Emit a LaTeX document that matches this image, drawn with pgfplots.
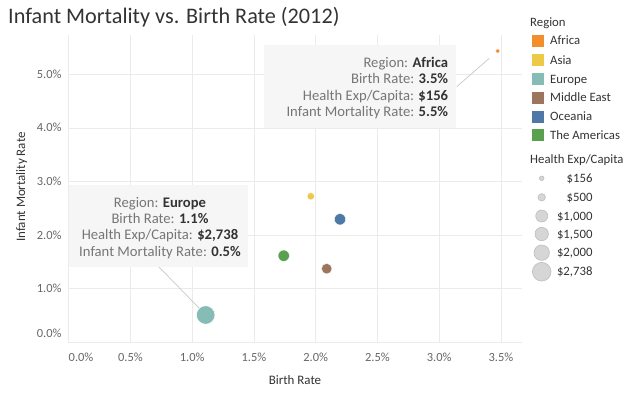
\documentclass[border=0pt]{standalone}
\usepackage{pgfplots}
\pgfplotsset{compat=1.18}
\usepackage{fontspec}
\setmainfont{Carlito}
\definecolor{africa}{HTML}{F28E2B}
\definecolor{asia}{HTML}{EDC948}
\definecolor{europe}{HTML}{86BCB6}
\definecolor{mideast}{HTML}{9C755F}
\definecolor{oceania}{HTML}{4E79A7}
\definecolor{americas}{HTML}{59A14F}
\definecolor{gridc}{HTML}{EBEBEB}
\definecolor{c333}{HTML}{333333}
\definecolor{c666}{HTML}{666666}
\definecolor{c777}{HTML}{767676}
\definecolor{boxc}{HTML}{F6F6F6}
\definecolor{leadc}{HTML}{C8C8C8}
\definecolor{szfill}{HTML}{D6D6D6}
\definecolor{szdraw}{HTML}{BDBDBD}
\pgfplotsset{pt/.style={only marks, mark=*, color=#1, mark options={draw=white, fill=#1, line width=0.4bp}}}
\begin{document}
\begin{tikzpicture}[x=1bp,y=1bp,
  lg/.style={font=\fontsize{12.8}{15}\selectfont, inner sep=0pt, anchor=base west, text=c333},
  tt/.style={font=\fontsize{14.7}{17}\selectfont, inner sep=0pt, text=c777}]
\useasboundingbox (0,0) rectangle (640,395);
\begin{axis}[
  at={(68.7bp,52.5bp)}, anchor=south west, scale only axis,
  width=453bp, height=307.5bp,
  xmin=0, xmax=3.668, ymin=0, ymax=5.733,
  axis x line*=bottom, axis y line*=left,
  axis line style={draw=gridc, line width=0.8bp, -},
  grid=major, major grid style={draw=gridc, line width=0.8bp},
  major tick length=0pt, tick style={draw=none},
  xtick={0,0.5,1,1.5,2,2.5,3,3.5}, ytick={0,1,2,3,4,5},
  xticklabels={\rlap{0.0\%},0.5\%,1.0\%,1.5\%,2.0\%,2.5\%,3.0\%,3.5\%},
  yticklabels={\raisebox{9.5bp}{0.0\%},1.0\%,2.0\%,3.0\%,4.0\%,5.0\%},
  xticklabel style={font=\fontsize{12.5}{14}\selectfont, text=c666, anchor=base, inner sep=0pt, yshift=-18.5bp},
  yticklabel style={font=\fontsize{12.5}{14}\selectfont, text=c666, anchor=base east, inner sep=0pt, xshift=-7bp, yshift=-4bp},
  clip=false,
]
% x = birth rate (%), y = infant mortality rate (%)
\addplot[pt=africa, mark size=2.1bp] coordinates {(3.474,5.434)};    % Africa, $156
\addplot[pt=asia, mark size=3.7bp] coordinates {(1.960,2.726)};      % Asia
\addplot[pt=oceania, mark size=5.7bp] coordinates {(2.197,2.297)};   % Oceania
\addplot[pt=mideast, mark size=5.3bp] coordinates {(2.089,1.376)};   % Middle East
\addplot[pt=americas, mark size=5.7bp] coordinates {(1.741,1.618)};  % The Americas
\addplot[pt=europe, mark size=9.2bp] coordinates {(1.109,0.513)};    % Europe, $2,738
\end{axis}
% title and axis labels
\node[font=\fontsize{22.3}{26}\selectfont, text=c333, inner sep=0pt, anchor=base west] at (8,372) {Infant Mortality vs. Birth Rate (2012)};
\node[font=\fontsize{13}{15}\selectfont, text=c333, inner sep=0pt, anchor=base] at (295,10.8) {Birth Rate};
\node[font=\fontsize{13}{15}\selectfont, text=c333, inner sep=0pt, anchor=base, rotate=90] at (25.2,208) {Infant Mortality Rate};
% tooltips
\draw[leadc, line width=0.7bp] (489.3,336.7) -- (456.7,308.3);
\draw[leadc, line width=0.7bp] (159,128) -- (199.3,86.7);
\fill[boxc] (264,350) rectangle (456,267);
\fill[boxc] (69.3,210) rectangle (248.3,128);
\node[tt, anchor=base east] at (448.3,328) {Region: \textcolor{c333}{\textbf{Africa}}};
\node[tt, anchor=base east] at (448.3,311.3) {Birth Rate: \textcolor{c333}{\textbf{3.5\%}}};
\node[tt, anchor=base east] at (448.3,294.6) {Health Exp/Capita: \textcolor{c333}{\textbf{\$156}}};
\node[tt, anchor=base east] at (448.3,278.6) {Infant Mortality Rate: \textcolor{c333}{\textbf{5.5\%}}};
\node[tt, anchor=base] at (160,187.6) {Region: \textcolor{c333}{\textbf{Europe}}};
\node[tt, anchor=base] at (160,171.3) {Birth Rate: \textcolor{c333}{\textbf{1.1\%}}};
\node[tt, anchor=base] at (160,155.3) {Health Exp/Capita: \textcolor{c333}{\textbf{\$2,738}}};
\node[tt, anchor=base] at (160,138.6) {Infant Mortality Rate: \textcolor{c333}{\textbf{0.5\%}}};
% legend: region
\node[lg] at (530,368.5) {Region};
\foreach \y/\c/\t in {354.3/africa/Africa, 335/asia/Asia, 316/europe/Europe, 297.3/mideast/Middle East, 278.3/oceania/Oceania, 260/americas/The Americas}{
  \fill[\c] (531.7,\y-5.8) rectangle (544,\y+5.8);
  \node[lg] at (550,\y-4.1) {\t};
}
% legend: size
\node[lg] at (530,231.9) {Health Exp/Capita};
\foreach \y/\r/\t in {216.7/2.3/{\$156}, 197.7/3.7/{\$500}, 179/6/{\$1,000}, 161/6.7/{\$1,500}, 142.3/7.7/{\$2,000}, 123.3/9.3/{\$2,738}}{
  \filldraw[fill=szfill, draw=szdraw, line width=0.6bp] (541.7,\y) circle[radius=\r bp];
  \node[lg, anchor=base east] at (592.7,\y-4.1) {\t};
}
\end{tikzpicture}
\end{document}
